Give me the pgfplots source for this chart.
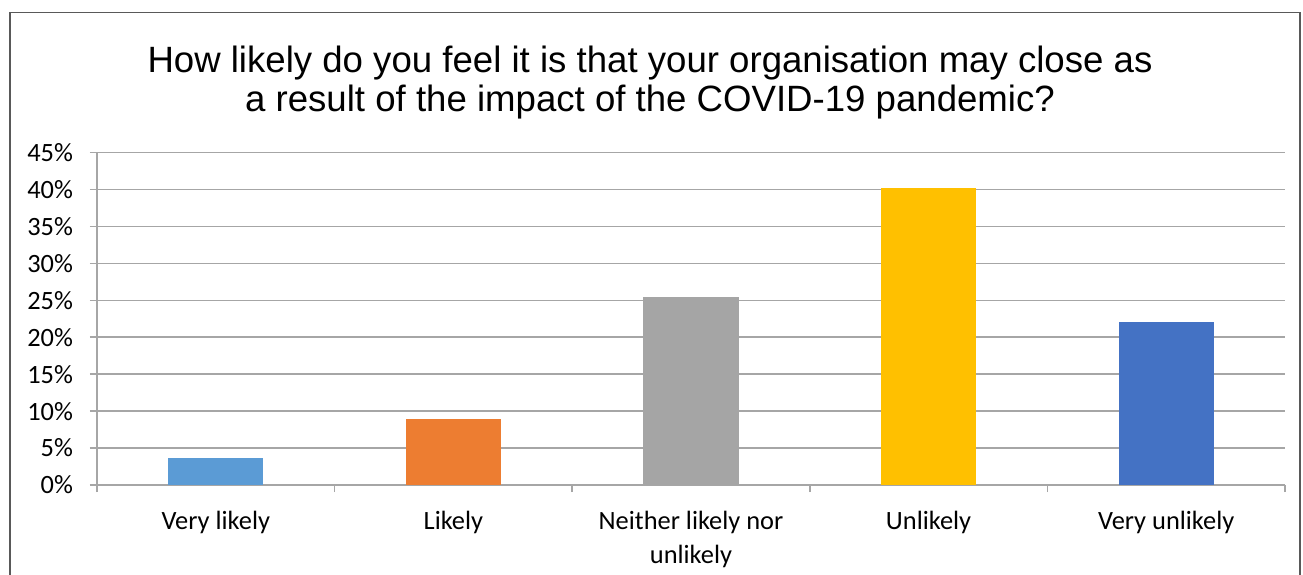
\documentclass[border=0pt]{standalone}
\usepackage{pgfplots}
\pgfplotsset{compat=1.18}
\usepackage{fontspec}
\setmainfont{Liberation Sans}
\newfontfamily\carlito{Carlito}
\definecolor{c1}{HTML}{5B9BD5}
\definecolor{c2}{HTML}{ED7D31}
\definecolor{c3}{HTML}{A5A5A5}
\definecolor{c4}{HTML}{FFC000}
\definecolor{c5}{HTML}{4472C4}
\definecolor{axgray}{HTML}{A6A6A6}
\definecolor{frame}{HTML}{595959}
\begin{document}
\begin{tikzpicture}
\useasboundingbox (-48.5bp,-45bp) rectangle (603bp,242.5bp);
\fill[white] (-48.5bp,-45bp) rectangle (603bp,242.5bp);
\draw[frame, line width=0.8bp] (-43.5bp,-60bp) -- (-43.5bp,236.25bp) -- (601.5bp,236.25bp) -- (601.5bp,-60bp);
\begin{axis}[
  at={(0,0)}, anchor=south west,
  scale only axis,
  width=594bp, height=166.25bp,
  xmin=-0.5, xmax=4.5,
  ymin=0, ymax=45,
  ybar, bar width=0.4, bar shift=0pt,
  axis lines*=left,
  axis line style={draw=axgray, line width=0.75bp},
  tick align=outside,
  xtick={0,1,2,3,4},
  xticklabels={Very likely, Likely, {Neither likely nor\\unlikely}, Unlikely, Very unlikely},
  minor xtick={-0.5,0.5,1.5,2.5,3.5,4.5},
  major tick length=3.5bp, minor tick length=3.5bp,
  major x tick style={draw=none},
  minor x tick style={draw=axgray, line width=0.75bp},
  ytick={0,5,...,45},
  major y tick style={draw=axgray, line width=0.75bp},
  ymajorgrids,
  major grid style={draw=axgray, line width=0.75bp},
  /pgf/number format/assume math mode=true,
  yticklabel={\pgfmathprintnumber{\tick}\%},
  yticklabel style={font=\fontsize{13.2bp}{15bp}\selectfont\carlito, xshift=-5bp},
  xticklabel style={font=\fontsize{13.2bp}{17bp}\selectfont\carlito, align=center, yshift=-6bp},
  title={How likely do you feel it is that your organisation may close as\\a result of the impact of the COVID-19 pandemic?},
  title style={at={(axis description cs:0.4655,1)}, anchor=center, yshift=29bp, align=center, font=\fontsize{18.3bp}{19.3bp}\selectfont},
]
\addplot[fill=c1, draw=none] coordinates {(0,3.7)};
\addplot[fill=c2, draw=none] coordinates {(1,8.9)};
\addplot[fill=c3, draw=none] coordinates {(2,25.4)};
\addplot[fill=c4, draw=none] coordinates {(3,40.2)};
\addplot[fill=c5, draw=none] coordinates {(4,22.0)};
\end{axis}
\end{tikzpicture}
\end{document}
